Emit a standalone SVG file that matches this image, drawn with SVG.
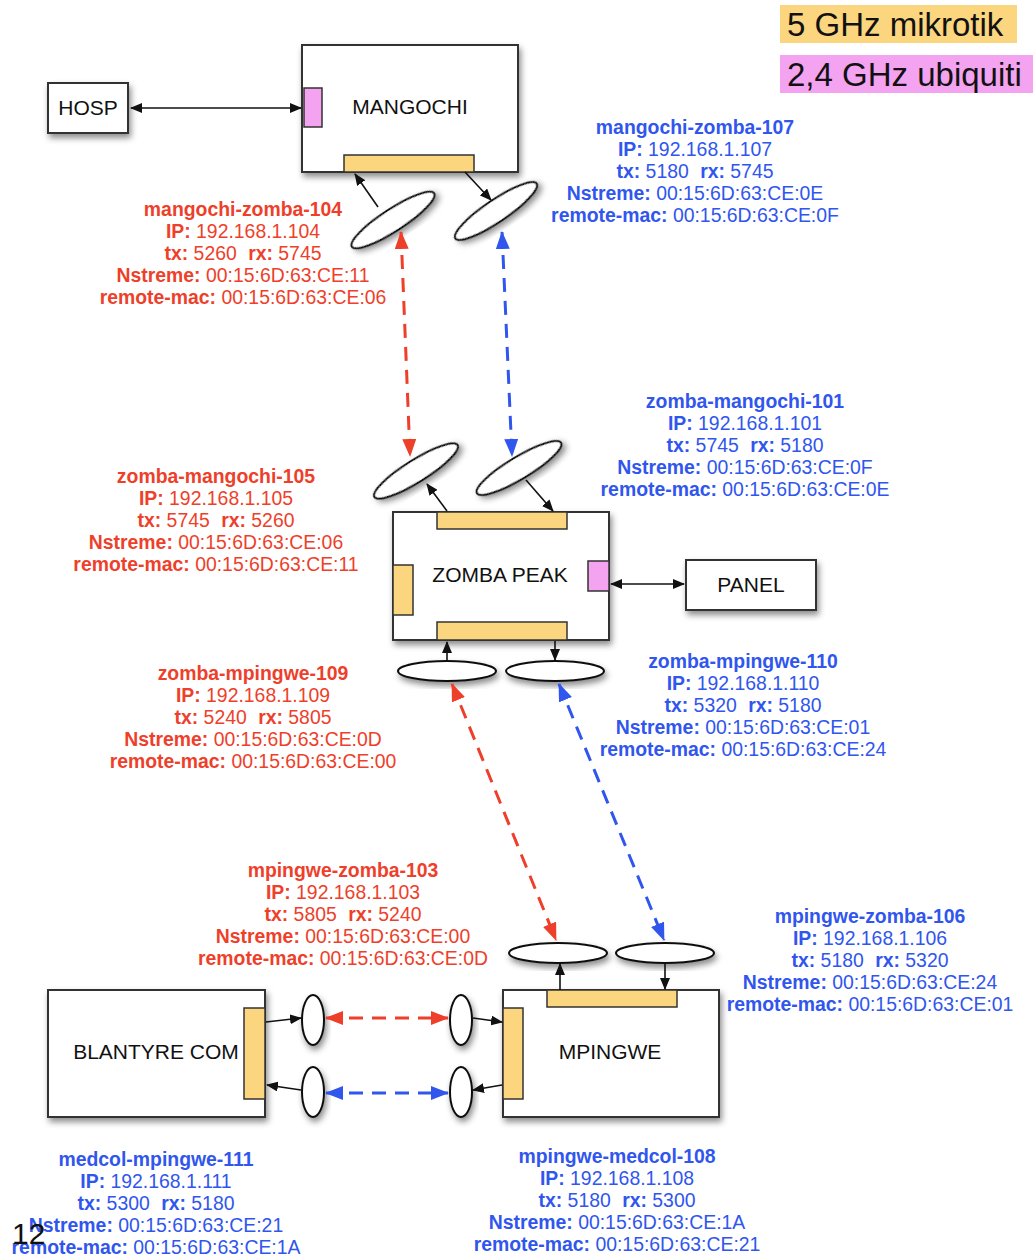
<svg xmlns="http://www.w3.org/2000/svg" width="1035" height="1259" viewBox="0 0 1035 1259">
<style>
.box{fill:#fff;stroke:#333;stroke-width:2;filter:url(#sh)}
.or{fill:#fcd57f;stroke:#333;stroke-width:1.5}
.pk{fill:#f4a3f0;stroke:#333;stroke-width:1.5}
.ant{fill:#fff;stroke:#111;stroke-width:2;filter:url(#sh)}
.nl{font-family:"Liberation Sans",Arial,sans-serif;font-size:21px;fill:#111;text-anchor:middle}
.lb{font-family:"Liberation Sans",Arial,sans-serif;font-size:19.4px;text-anchor:middle}
.lb tspan.b{font-weight:bold}
.r{fill:#ee3f2b}
.bl{fill:#3056ee}
.blk{stroke:#111;stroke-width:1.6;fill:none}
.dr{stroke:#ee3f2b;stroke-width:3;stroke-dasharray:14 9;fill:none}
.db{stroke:#3056ee;stroke-width:3;stroke-dasharray:14 9;fill:none}
.leg{font-family:"Liberation Sans",Arial,sans-serif;font-size:33px;fill:#111}
</style>
<defs>
<filter id="sh" x="-20%" y="-20%" width="150%" height="160%">
<feDropShadow dx="2" dy="4" stdDeviation="3" flood-color="#000" flood-opacity="0.45"/>
</filter>
<marker id="ak" markerUnits="userSpaceOnUse" markerWidth="12" markerHeight="10" refX="11" refY="5" orient="auto-start-reverse"><path d="M0,0 L12,5 L0,10 z" fill="#111"/></marker>
<marker id="ar" markerUnits="userSpaceOnUse" markerWidth="18" markerHeight="14" refX="17" refY="7" orient="auto-start-reverse"><path d="M0,0 L18,7 L0,14 z" fill="#ee3f2b"/></marker>
<marker id="ab" markerUnits="userSpaceOnUse" markerWidth="18" markerHeight="14" refX="17" refY="7" orient="auto-start-reverse"><path d="M0,0 L18,7 L0,14 z" fill="#3056ee"/></marker>
</defs>
<rect width="1035" height="1259" fill="#fff"/>

<g id="legend">
<rect x="780" y="5" width="237" height="38" fill="#fcd57f"/>
<text class="leg" x="787" y="36">5 GHz mikrotik</text>
<rect x="780" y="55" width="253" height="38" fill="#f4a3f0"/>
<text class="leg" x="787" y="86">2,4 GHz ubiquiti</text>
</g>

<g id="hosp">
<rect class="box" x="48" y="83" width="80" height="50"/>
<text class="nl" x="88" y="115">HOSP</text>
</g>

<g id="mangochi">
<rect class="box" x="302" y="45" width="216" height="127"/>
<rect class="pk" x="304" y="88" width="18" height="39"/>
<rect class="or" x="344" y="155" width="130" height="17"/>
<text class="nl" x="410" y="114">MANGOCHI</text>
</g>

<g id="zomba">
<rect class="box" x="393" y="512" width="216" height="128"/>
<rect class="or" x="437" y="512" width="130" height="17"/>
<rect class="or" x="393" y="565" width="20" height="50"/>
<rect class="pk" x="588" y="561" width="21" height="30"/>
<rect class="or" x="437" y="622" width="130" height="18"/>
<text class="nl" x="500" y="582">ZOMBA PEAK</text>
</g>

<g id="panel">
<rect class="box" x="686" y="560" width="130" height="50"/>
<text class="nl" x="751" y="592">PANEL</text>
</g>

<g id="mpingwe">
<rect class="box" x="503" y="990" width="216" height="127"/>
<rect class="or" x="547" y="990" width="130" height="17"/>
<rect class="or" x="503" y="1008" width="20" height="91"/>
<text class="nl" x="610" y="1059">MPINGWE</text>
</g>

<g id="blantyre">
<rect class="box" x="48" y="990" width="217" height="127"/>
<rect class="or" x="244" y="1008" width="21" height="91"/>
<text class="nl" x="156" y="1059">BLANTYRE COM</text>
</g>

<g id="antennas">
<ellipse class="ant" cx="393" cy="220" rx="49" ry="11" transform="rotate(-33 393 220)"/>
<ellipse class="ant" cx="496" cy="211" rx="49" ry="11" transform="rotate(-34 496 211)"/>
<ellipse class="ant" cx="416" cy="471" rx="49" ry="11" transform="rotate(-32 416 471)"/>
<ellipse class="ant" cx="519" cy="468" rx="49" ry="11" transform="rotate(-31 519 468)"/>
<ellipse class="ant" cx="447" cy="671" rx="49" ry="10"/>
<ellipse class="ant" cx="555" cy="671" rx="49" ry="10"/>
<ellipse class="ant" cx="558" cy="953" rx="49" ry="10"/>
<ellipse class="ant" cx="665" cy="953" rx="49" ry="10"/>
<ellipse class="ant" cx="313" cy="1020" rx="11" ry="25"/>
<ellipse class="ant" cx="461" cy="1020" rx="11" ry="25"/>
<ellipse class="ant" cx="313" cy="1092" rx="11" ry="25"/>
<ellipse class="ant" cx="461" cy="1092" rx="11" ry="25"/>
</g>

<g id="connectors">
<line class="blk" x1="131" y1="108" x2="301" y2="108" marker-start="url(#ak)" marker-end="url(#ak)"/>
<line class="blk" x1="378" y1="207" x2="355" y2="174" marker-end="url(#ak)"/>
<line class="blk" x1="465" y1="172" x2="491" y2="200" marker-end="url(#ak)"/>
<line class="blk" x1="447" y1="511" x2="427" y2="484" marker-end="url(#ak)"/>
<line class="blk" x1="526" y1="480" x2="553" y2="511" marker-end="url(#ak)"/>
<line class="blk" x1="611" y1="584" x2="684" y2="584" marker-start="url(#ak)" marker-end="url(#ak)"/>
<line class="blk" x1="447" y1="660" x2="447" y2="642" marker-end="url(#ak)"/>
<line class="blk" x1="555" y1="641" x2="555" y2="660" marker-end="url(#ak)"/>
<line class="blk" x1="560" y1="990" x2="560" y2="964" marker-end="url(#ak)"/>
<line class="blk" x1="665" y1="964" x2="665" y2="989" marker-end="url(#ak)"/>
<line class="blk" x1="266" y1="1022" x2="301" y2="1018" marker-end="url(#ak)"/>
<line class="blk" x1="473" y1="1018" x2="502" y2="1022" marker-end="url(#ak)"/>
<line class="blk" x1="301" y1="1090" x2="267" y2="1085" marker-end="url(#ak)"/>
<line class="blk" x1="502" y1="1085" x2="473" y2="1090" marker-end="url(#ak)"/>
<line class="dr" x1="401" y1="232" x2="410" y2="456" marker-start="url(#ar)" marker-end="url(#ar)"/>
<line class="db" x1="502" y1="232" x2="512" y2="456" marker-start="url(#ab)" marker-end="url(#ab)"/>
<line class="dr" x1="452" y1="684" x2="556" y2="940" marker-start="url(#ar)" marker-end="url(#ar)"/>
<line class="db" x1="559" y1="684" x2="664" y2="940" marker-start="url(#ab)" marker-end="url(#ab)"/>
<line class="dr" x1="326" y1="1018" x2="448" y2="1018" marker-start="url(#ar)" marker-end="url(#ar)"/>
<line class="db" x1="326" y1="1093" x2="448" y2="1093" marker-start="url(#ab)" marker-end="url(#ab)"/>
</g>

<g id="labels">
<text class="lb r" x="243" y="216"><tspan class="b">mangochi-zomba-104</tspan><tspan x="243" dy="22"><tspan class="b">IP:</tspan> 192.168.1.104</tspan><tspan x="243" dy="22"><tspan class="b">tx:</tspan> 5260 <tspan class="b" dx="6">rx:</tspan> 5745</tspan><tspan x="243" dy="22"><tspan class="b">Nstreme:</tspan> 00:15:6D:63:CE:11</tspan><tspan x="243" dy="22"><tspan class="b">remote-mac:</tspan> 00:15:6D:63:CE:06</tspan></text>

<text class="lb bl" x="695" y="134"><tspan class="b">mangochi-zomba-107</tspan><tspan x="695" dy="22"><tspan class="b">IP:</tspan> 192.168.1.107</tspan><tspan x="695" dy="22"><tspan class="b">tx:</tspan> 5180 <tspan class="b" dx="6">rx:</tspan> 5745</tspan><tspan x="695" dy="22"><tspan class="b">Nstreme:</tspan> 00:15:6D:63:CE:0E</tspan><tspan x="695" dy="22"><tspan class="b">remote-mac:</tspan> 00:15:6D:63:CE:0F</tspan></text>

<text class="lb bl" x="745" y="408"><tspan class="b">zomba-mangochi-101</tspan><tspan x="745" dy="22"><tspan class="b">IP:</tspan> 192.168.1.101</tspan><tspan x="745" dy="22"><tspan class="b">tx:</tspan> 5745 <tspan class="b" dx="6">rx:</tspan> 5180</tspan><tspan x="745" dy="22"><tspan class="b">Nstreme:</tspan> 00:15:6D:63:CE:0F</tspan><tspan x="745" dy="22"><tspan class="b">remote-mac:</tspan> 00:15:6D:63:CE:0E</tspan></text>

<text class="lb r" x="216" y="483"><tspan class="b">zomba-mangochi-105</tspan><tspan x="216" dy="22"><tspan class="b">IP:</tspan> 192.168.1.105</tspan><tspan x="216" dy="22"><tspan class="b">tx:</tspan> 5745 <tspan class="b" dx="6">rx:</tspan> 5260</tspan><tspan x="216" dy="22"><tspan class="b">Nstreme:</tspan> 00:15:6D:63:CE:06</tspan><tspan x="216" dy="22"><tspan class="b">remote-mac:</tspan> 00:15:6D:63:CE:11</tspan></text>

<text class="lb r" x="253" y="680"><tspan class="b">zomba-mpingwe-109</tspan><tspan x="253" dy="22"><tspan class="b">IP:</tspan> 192.168.1.109</tspan><tspan x="253" dy="22"><tspan class="b">tx:</tspan> 5240 <tspan class="b" dx="6">rx:</tspan> 5805</tspan><tspan x="253" dy="22"><tspan class="b">Nstreme:</tspan> 00:15:6D:63:CE:0D</tspan><tspan x="253" dy="22"><tspan class="b">remote-mac:</tspan> 00:15:6D:63:CE:00</tspan></text>

<text class="lb bl" x="743" y="668"><tspan class="b">zomba-mpingwe-110</tspan><tspan x="743" dy="22"><tspan class="b">IP:</tspan> 192.168.1.110</tspan><tspan x="743" dy="22"><tspan class="b">tx:</tspan> 5320 <tspan class="b" dx="6">rx:</tspan> 5180</tspan><tspan x="743" dy="22"><tspan class="b">Nstreme:</tspan> 00:15:6D:63:CE:01</tspan><tspan x="743" dy="22"><tspan class="b">remote-mac:</tspan> 00:15:6D:63:CE:24</tspan></text>

<text class="lb r" x="343" y="877"><tspan class="b">mpingwe-zomba-103</tspan><tspan x="343" dy="22"><tspan class="b">IP:</tspan> 192.168.1.103</tspan><tspan x="343" dy="22"><tspan class="b">tx:</tspan> 5805 <tspan class="b" dx="6">rx:</tspan> 5240</tspan><tspan x="343" dy="22"><tspan class="b">Nstreme:</tspan> 00:15:6D:63:CE:00</tspan><tspan x="343" dy="22"><tspan class="b">remote-mac:</tspan> 00:15:6D:63:CE:0D</tspan></text>

<text class="lb bl" x="870" y="923"><tspan class="b">mpingwe-zomba-106</tspan><tspan x="870" dy="22"><tspan class="b">IP:</tspan> 192.168.1.106</tspan><tspan x="870" dy="22"><tspan class="b">tx:</tspan> 5180 <tspan class="b" dx="6">rx:</tspan> 5320</tspan><tspan x="870" dy="22"><tspan class="b">Nstreme:</tspan> 00:15:6D:63:CE:24</tspan><tspan x="870" dy="22"><tspan class="b">remote-mac:</tspan> 00:15:6D:63:CE:01</tspan></text>

<text class="lb bl" x="156" y="1166"><tspan class="b">medcol-mpingwe-111</tspan><tspan x="156" dy="22"><tspan class="b">IP:</tspan> 192.168.1.111</tspan><tspan x="156" dy="22"><tspan class="b">tx:</tspan> 5300 <tspan class="b" dx="6">rx:</tspan> 5180</tspan><tspan x="156" dy="22"><tspan class="b">Nstreme:</tspan> 00:15:6D:63:CE:21</tspan><tspan x="156" dy="22"><tspan class="b">remote-mac:</tspan> 00:15:6D:63:CE:1A</tspan></text>

<text class="lb bl" x="617" y="1163"><tspan class="b">mpingwe-medcol-108</tspan><tspan x="617" dy="22"><tspan class="b">IP:</tspan> 192.168.1.108</tspan><tspan x="617" dy="22"><tspan class="b">tx:</tspan> 5180 <tspan class="b" dx="6">rx:</tspan> 5300</tspan><tspan x="617" dy="22"><tspan class="b">Nstreme:</tspan> 00:15:6D:63:CE:1A</tspan><tspan x="617" dy="22"><tspan class="b">remote-mac:</tspan> 00:15:6D:63:CE:21</tspan></text>

<text x="12" y="1244" font-family="Liberation Sans, Arial, sans-serif" font-size="30" fill="#111">12</text>
</g>
</svg>
